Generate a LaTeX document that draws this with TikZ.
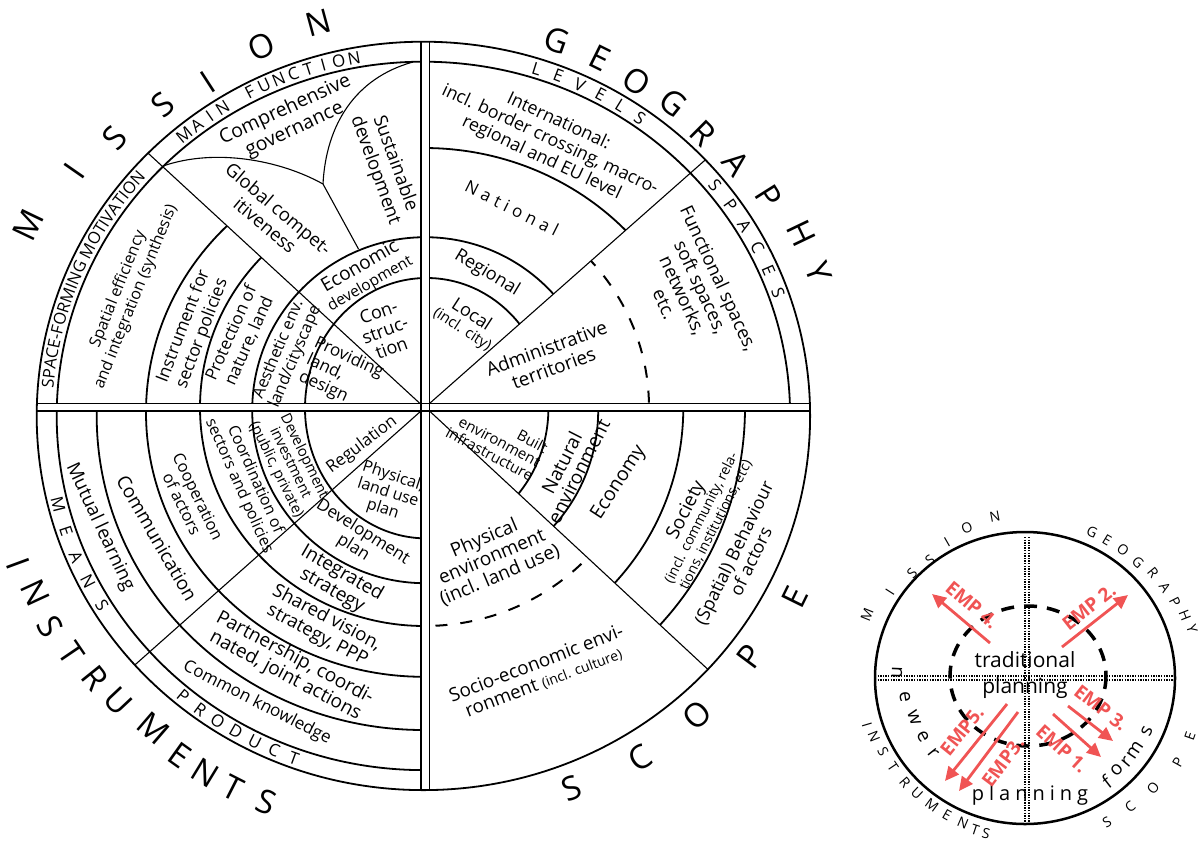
\documentclass[tikz,border=0pt]{standalone}
\usepackage{fontspec}
\setmainfont{Open Sans}
\usetikzlibrary{calc,arrows.meta,decorations.text}
\definecolor{empred}{RGB}{240,84,84}
\newcommand\fsz[2]{\fontsize{#1}{#2}\selectfont}
\begin{document}
\begin{tikzpicture}[x=1pt,y=-1pt,
  ring/.style={line width=1.8pt},
  rad/.style={line width=1.1pt},
  dbl/.style={line width=1.1pt},
  dashring/.style={line width=2pt, dash pattern=on 12pt off 13pt},
  lbl/.style={align=center, inner sep=0pt},
  big/.style={font=\fsz{33}{33}, inner sep=0pt},
  bandl/.style={font=\fsz{17}{17}, inner sep=0pt},
  inl/.style={font=\fsz{14}{14}, inner sep=0pt},
  emp/.style={empred, line width=2.8pt, -{Triangle[length=14pt,width=13pt]}},
  emplbl/.style={empred, font=\bfseries\fsz{19}{19}, inner sep=0pt},
  dotl/.style={line width=1.2pt, dash pattern=on 1.3pt off 1.3pt}]
\useasboundingbox (0,0) rectangle (1198,841);
\fill[white] (0,0) rectangle (1198,841);

% ---------- rings, top-left quadrant
\begin{scope}
\clip (-10,-10) rectangle (421,403.5);
\draw[ring] (423.4,415.9) ellipse [x radius=366.7, y radius=354.2];
\draw[ring] (425.2,410.2) circle [radius=173];
\draw[ring] (426.7,408.2) ellipse [x radius=121.7, y radius=130.2];
\end{scope}
\begin{scope}
\clip (420,403.5) -- (-386,-339) -- (-386,403.5) -- cycle;
\draw[ring] (424,412.4) ellipse [x radius=278, y radius=264.4];
\draw[ring] (424.5,407.5) ellipse [x radius=224.5, y radius=218.5];
\end{scope}
% ---------- top-right
\begin{scope}
\clip (429.5,-10) rectangle (900,403.5);
\draw[ring] (423.4,415.9) ellipse [x radius=366.7, y radius=354.2];
\end{scope}
\begin{scope}
\clip (429.5,403.5) -- (977.1,-80.1) -- (429.5,-80.1) -- cycle;
\draw[ring] (424,412.4) ellipse [x radius=278, y radius=264.4];
\draw[ring] (425.2,410.2) circle [radius=173];
\draw[ring] (426.7,408.2) ellipse [x radius=121.7, y radius=130.2];
\end{scope}
\begin{scope}
\clip (429.5,403.5) -- (977.1,-80.1) -- (977.1,403.5) -- cycle;
\draw[dashring] (424.5,407.5) ellipse [x radius=224.5, y radius=218.5];
\end{scope}
% ---------- bottom-left
\begin{scope}
\clip (-10,411) rectangle (421,900);
\draw[ring] (423.4,415.9) ellipse [x radius=366.7, y radius=354.2];
\draw[ring] (423.4,415.9) ellipse [x radius=326.7, y radius=314.1];
\draw[ring] (424,412.4) ellipse [x radius=278, y radius=264.4];
\draw[ring] (424.5,407.5) ellipse [x radius=224.5, y radius=218.5];
\draw[ring] (425.2,410.2) circle [radius=173];
\draw[ring] (426.7,408.2) ellipse [x radius=121.7, y radius=130.2];
\end{scope}
% ---------- bottom-right
\begin{scope}
\clip (429.5,411) -- (983.9,925.6) -- (983.9,411) -- cycle;
\draw[ring] (426.7,408.2) ellipse [x radius=121.7, y radius=130.2];
\draw[ring] (425.2,410.2) circle [radius=173];
\draw[ring] (424.5,407.5) circle [radius=258.8];
\draw[ring] (424.5,407.5) circle [radius=320.5];
\end{scope}
\begin{scope}
\clip (429.5,411) -- (983.9,925.6) -- (429.5,925.6) -- cycle;
\draw[dashring] (424.5,407.5) ellipse [x radius=224.5, y radius=218.5];
\end{scope}
% ---------- outer circle, cross, radial lines, Y curves
\draw[ring] (423.4,415.9) ellipse [x radius=386.7, y radius=374.2];
\draw[dbl] (421,41.7) -- (421,790.1);
\draw[dbl] (429.5,41.7) -- (429.5,790.1);
\draw[dbl] (36.9,403.5) -- (809.9,403.5);
\draw[dbl] (36.8,411) -- (810,411);
\draw[rad] (148.1,153.2) -- (420,403.5);
\draw[rad] (705.4,159.8) -- (429.5,403.5);
\draw[rad] (134.8,665) -- (421,411);
\draw[rad] (707.8,669.3) -- (429.5,411);
\coordinate (J) at (323,184);
\draw[rad] (163,166) .. controls (215,148) and (280,160) .. (J);
\draw[rad] (J) .. controls (326,125) and (355,78) .. (413,62);
\draw[rad] (J) -- (358.5,249);

% ---------- big outer words
\foreach \px/\py/\pl [count=\i] in {28.3/225/M, 74/170.7/I, 115/138.3/S, 163.3/105/S, 208.3/81.7/I, 261.7/46.7/O, 318.3/23.3/N}
  \node[big, rotate={atan2(414-\py,\px-424)-90}] (mis\i) at (\px,\py) {\pl};
\foreach \px/\py/\pl [count=\i] in {556.7/40/G, 600/58.3/E, 636.7/81.7/O, 673.3/103.3/G, 703.3/133.3/R, 736.7/163.3/A, 768.3/196.7/P, 801.7/233.3/H, 818.3/271.7/Y}
  \node[big, rotate={atan2(414-\py,\px-424)-90}] (geo\i) at (\px,\py) {\pl};
\foreach \px/\py/\pl [count=\i] in {18.3/563.3/I, 35/593.3/N, 50/626.7/S, 71.7/653.3/T, 95/678.3/R, 118.3/701.7/U, 153.3/728.3/M, 180/755/E, 205/773.3/N, 233.3/788.3/T, 266.7/801.7/S}
  \node[big, rotate={atan2(414-\py,\px-424)+90}] (ins\i) at (\px,\py) {\pl};
\foreach \px/\py/\pl [count=\i] in {571.7/788.3/S, 640/758.3/C, 696.7/715/O, 750/656.7/P, 795/596.7/E}
  \node[big, rotate={atan2(414-\py,\px-424)+90}] (sco\i) at (\px,\py) {\pl};

% ---------- band labels
\foreach \l [count=\i from 0] in {M,A,I,N,{},F,U,N,C,T,I,O,N} {
  \pgfmathsetmacro\t{129.4-2.4*\i}
  \node[bandl, rotate=\t-90] (mf\i) at ($(423.4,415.9)+({376.7*cos(\t)},{-364.2*sin(\t)})$) {\l};
}
\foreach \l [count=\i from 0] in {L,E,V,E,L,S} {
  \pgfmathsetmacro\t{72.5-3.52*\i}
  \node[bandl, rotate=\t-90] (lv\i) at ($(423.4,415.9)+({376.7*cos(\t)},{-364.2*sin(\t)})$) {\l};
}
\foreach \l [count=\i from 0] in {S,P,A,C,E,S} {
  \pgfmathsetmacro\t{39.3-3.92*\i}
  \node[bandl, rotate=\t-90] (sp\i) at ($(423.4,415.9)+({376.7*cos(\t)},{-364.2*sin(\t)})$) {\l};
}
\foreach \l [count=\i from 0] in {M,E,A,N,S} {
  \pgfmathsetmacro\t{194.1+4.33*\i}
  \node[bandl, rotate=\t+90] (me\i) at ($(423.4,415.9)+({376.7*cos(\t)},{-364.2*sin(\t)})$) {\l};
}
\foreach \l [count=\i from 0] in {P,R,O,D,U,C,T} {
  \pgfmathsetmacro\t{230.4+3.25*\i}
  \node[bandl, rotate=\t+90] (pr\i) at ($(423.4,415.9)+({376.7*cos(\t)},{-364.2*sin(\t)})$) {\l};
}
\path[decorate, decoration={text along path, text={|\fsz{16.5}{16.5}|SPACE-FORMING MOTIVATION}, text align=center}]
  (53.1,394.0) arc[start angle=-176.5, end angle=-137.5, x radius=371, y radius=358.5];

% ---------- labels top-left
\node[lbl, font=\fsz{19.5}{22}, rotate=25] (l1) at (290,120) {Comprehensive\\governance};
\node[lbl, font=\fsz{18.5}{21}, rotate=-70] (l2) at (385,167) {Sustainable\\development};
\node[lbl, font=\fsz{18.5}{21}, rotate=-40] (l3) at (272,217) {Global compet-\\itiveness};
\node[lbl, font=\fsz{16}{19}, rotate=68] (l4) at (127,293) {Spatial efficiency\\and integration (synthesis)};
\node[lbl, font=\fsz{17.5}{20}, rotate=69] (l5) at (193,330) {Instrument for\\sector policies};
\node[lbl, font=\fsz{17}{19.5}, rotate=66] (l6) at (240,337) {Protection of\\nature, land};
\node[lbl, font=\fsz{16.3}{18}, rotate=67] (l7) at (287,353) {Aesthetic env.\\land/cityscape};
\node[lbl, font=\fsz{19}{19}, rotate=30] (l8) at (365,275) {Economic\\{\fsz{15.5}{15.5}development}};
\node[lbl, font=\fsz{18}{19}, rotate=20] (l9) at (385,330) {Con-\\struc-\\tion};
\node[lbl, font=\fsz{17}{18.5}, rotate=-25, align=left] (l10) at (341,375) {Providing\\land,\\design};
% ---------- labels top-right
\node[lbl, font=\fsz{17.8}{20}, rotate=-25] (l11) at (550,140) {International:\\incl. border crossing, macro-\\regional and EU level};
\node[lbl, font=\fsz{17}{17}, rotate=-26.6] (l12) at (512,208) {N\kern5pt a\kern5pt t\kern5pt i\kern5pt o\kern5pt n\kern5pt a\kern5pt l};
\node[lbl, font=\fsz{18}{18}, rotate=-31] (l13) at (487,273) {Regional};
\node[lbl, font=\fsz{18}{16}, rotate=-33] (l14) at (467,322) {Local\\{\fsz{15}{15}(incl. city)}};
\node[lbl, font=\fsz{18.9}{21}, rotate=20] (l15) at (550,358) {Administrative\\territories};
\node[lbl, font=\fsz{18.5}{20}, rotate=-65] (l16) at (692,291) {Functional spaces,\\soft spaces,\\networks,\\etc.};
% ---------- labels bottom-left
\node[lbl, font=\fsz{16.7}{16.7}, rotate=37] (l17) at (362,445) {Regulation};
\node[lbl, font=\fsz{16}{17}, rotate=-18] (l18) at (388,493) {Physical,\\land use\\plan};
\node[lbl, font=\fsz{17}{18}, rotate=-32] (l19) at (358,540) {Development\\plan};
\node[lbl, font=\fsz{14.7}{15.5}, rotate=-64] (l20) at (290,463) {Development\\investment\\(public, private)};
\node[lbl, font=\fsz{15.9}{17.5}, rotate=-66] (l21) at (247,483) {Coordination of\\sectors and policies};
\node[lbl, font=\fsz{16.3}{18}, rotate=-64] (l22) at (190,500) {Cooperation\\of actors};
\node[lbl, font=\fsz{19}{19}, rotate=-60] (l23) at (157,538) {Communication};
\node[lbl, font=\fsz{18.8}{18.8}, rotate=-65] (l24) at (100,527) {Mutual learning};
\node[lbl, font=\fsz{19}{20}, rotate=-30] (l25) at (337,582) {Integrated\\strategy};
\node[lbl, font=\fsz{18.5}{20}, rotate=-28] (l26) at (322,627) {Shared vision,\\strategy, PPP};
\node[lbl, font=\fsz{19}{20}, rotate=-28] (l27) at (290,667) {Partnership, coordi-\\nated, joint actions};
\node[lbl, font=\fsz{17}{17}, rotate=-27] (l28) at (257,703) {Common knowledge};
% ---------- labels bottom-right
\node[lbl, font=\fsz{15}{15.5}, rotate=-28, align=right] (l29) at (497,440) {Built\\environment\\infrastructure};
\node[lbl, font=\fsz{19}{19}, rotate=63] (l30) at (570,467) {Natural\\environment};
\node[lbl, font=\fsz{19.5}{19.5}, rotate=57] (l31) at (619,483) {Economy};
\node[lbl, font=\fsz{19}{16}, rotate=63] (l32) at (700,517) {Society\\{\fsz{14}{14}(incl. community, rela-}\\{\fsz{14}{14}tions, institutions, etc)}};
\node[lbl, font=\fsz{18}{19}, rotate=64] (l33) at (742,557) {(Spatial) Behaviour\\of actors};
\node[lbl, font=\fsz{19}{20}, rotate=23] (l34) at (492,557) {Physical\\environment\\(incl. land use)};
\node[lbl, font=\fsz{18.8}{20}, rotate=21] (l35) at (540,673) {Socio-economic envi-\\ronment {\fsz{14}{14}(incl. culture)}};

% ---------- inset
\draw[line width=2.5pt] (1025,678) ellipse [x radius=150, y radius=146];
\draw[dotl] (1025,537) -- (1025,824);
\draw[dotl] (1029,537) -- (1029,824);
\draw[dotl] (875,676) -- (1175,676);
\draw[dotl] (875,680) -- (1175,680);
\draw[line width=3.5pt, dash pattern=on 13pt off 10pt] (1028,676) ellipse [x radius=78, y radius=70];
\node[lbl, font=\fsz{21}{21}] (trad) at (1025,660) {traditional};
\node[lbl, font=\fsz{21}{21}] (plan) at (1025,688) {planning};
\node[lbl, font=\fsz{20}{20}] (plan2) at (1030,795) {p\kern5pt l\kern5pt a\kern5pt n\kern5pt n\kern5pt i\kern5pt n\kern5pt g};
\foreach \px/\py/\pl [count=\i] in {897/673/n, 905/697/e, 914/718/w, 923/737/e, 933/753/r}
  \node[lbl, font=\fsz{19}{19}, rotate={atan2(678-\py,\px-1027)+90}] (nw\i) at (\px,\py) {\pl};
\foreach \px/\py/\pl [count=\i] in {1106.7/781.7/f, 1116.7/770/o, 1126.7/761.7/r, 1135/750/m, 1146.7/731.7/s}
  \node[lbl, font=\fsz{19}{19}, rotate={atan2(678-\py,\px-1027)+90}] (fm\i) at (\px,\py) {\pl};
\foreach \px/\py/\pl [count=\i] in {867/615/M, 890/592/I, 912/573/S, 930/560/S, 947/542/I, 967/528/O, 995/517/N}
  \node[inl, rotate={atan2(678-\py,\px-1025)-90}] (imi\i) at (\px,\py) {\pl};
\foreach \px/\py/\pl [count=\i] in {1092/532/G, 1107/540/E, 1123/550/O, 1138/562/G, 1153/573/R, 1165/588/A, 1175/602/P, 1185/615/H, 1192/629/Y}
  \node[inl, rotate={atan2(678-\py,\px-1025)-90}] (ige\i) at (\px,\py) {\pl};
\foreach \px/\py/\pl [count=\i] in {867/725/I, 874/737/N, 883/752/S, 893/767/T, 905/782/R, 917/793/U, 932/805/M, 947/815/E, 963/823/N, 975/830/T, 986/834/S}
  \node[inl, rotate={atan2(678-\py,\px-1025)+90}] (iin\i) at (\px,\py) {\pl};
\foreach \px/\py/\pl [count=\i] in {1107/822/S, 1130/807/C, 1153/788/O, 1178/762/P, 1190/736/E}
  \node[inl, rotate={atan2(678-\py,\px-1025)+90}] (isc\i) at (\px,\py) {\pl};
% EMP arrows
\coordinate (e4a) at (990,643); \coordinate (e4b) at (932,594);
\coordinate (e2a) at (1062,647); \coordinate (e2b) at (1128,595);
\coordinate (e3a) at (1068,706); \coordinate (e3b) at (1113,741);
\coordinate (e1a) at (1053,714); \coordinate (e1b) at (1101,757);
\coordinate (e5a) at (1007,704); \coordinate (e5b) at (945,781);
\coordinate (e6a) at (1018,712); \coordinate (e6b) at (959,791);
\draw[emp] (e4a) -- (e4b);
\draw[emp] (e2a) -- (e2b);
\draw[emp] (e3a) -- (e3b);
\draw[emp] (e1a) -- (e1b);
\draw[emp] (e5a) -- (e5b);
\draw[emp] (e6a) -- (e6b);
\node[emplbl, rotate=-40] (t4) at (972,605) {EMP 4.};
\node[emplbl, rotate=38] (t2) at (1089,607) {EMP 2.};
\node[emplbl, rotate=-38] (t3) at (1101,708) {EMP 3.};
\node[emplbl, rotate=-42] (t1) at (1062,749) {EMP 1.};
\node[emplbl, rotate=51] (t5) at (962,731) {EMP5.};
\node[emplbl, rotate=53] (t6) at (1003,762) {EMP3.};
\end{tikzpicture}
\end{document}
